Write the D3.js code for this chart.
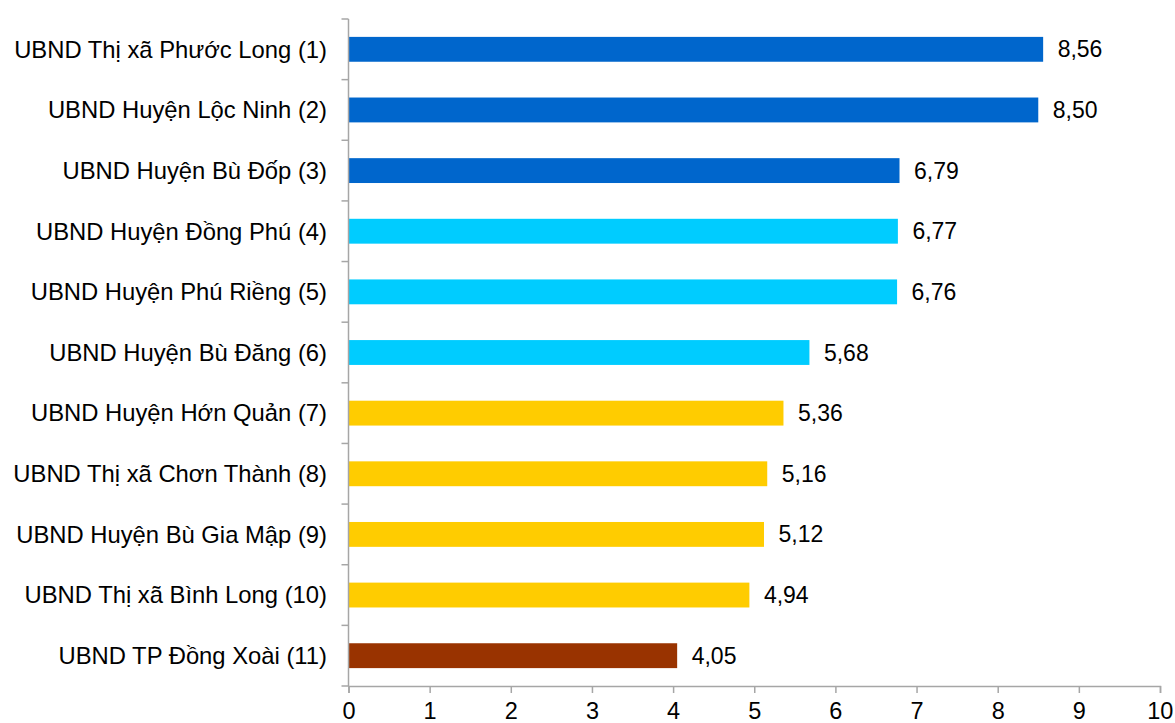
<!DOCTYPE html>
<html><head><meta charset="utf-8">
<script src="https://cdn.jsdelivr.net/npm/d3@7"></script>
<style>body{margin:0;background:#fff}svg{display:block}text{font-family:"Liberation Sans",Arial,sans-serif}</style>
</head><body><svg id="c" width="1175" height="723"></svg>
<script>
const categories = ["UBND Thị xã Phước Long (1)","UBND Huyện Lộc Ninh (2)","UBND Huyện Bù Đốp (3)","UBND Huyện Đồng Phú (4)","UBND Huyện Phú Riềng (5)","UBND Huyện Bù Đăng (6)","UBND Huyện Hớn Quản (7)","UBND Thị xã Chơn Thành (8)","UBND Huyện Bù Gia Mập (9)","UBND Thị xã Bình Long (10)","UBND TP Đồng Xoài (11)"];
const values = [8.56,8.50,6.79,6.77,6.76,5.68,5.36,5.16,5.12,4.94,4.05];
const groups = [0,0,0,1,1,1,2,2,2,2,3];
const groupColors = ["#0066CC","#00CCFF","#FFCC00","#993300"];
const xTicks = [0,1,2,3,4,5,6,7,8,9,10];

const svg = d3.select("#c");
const mLeft = 348.5, mRight = 1160, mTop = 19, mBottom = 686;
const x = d3.scaleLinear().domain([0,10]).range([mLeft,mRight]);
const y = d3.scaleBand().domain(categories).range([mTop,mBottom]).paddingInner(0.59).paddingOuter(0.295);
const yb = d3.scaleBand().domain(categories).range([mTop,mBottom]);

svg.selectAll("rect.bar").data(values).join("rect").attr("class","bar")
  .attr("x", x(0)).attr("y",(d,i)=>y(categories[i])).attr("height",y.bandwidth())
  .attr("width",d=>x(d)-x(0)).attr("fill",(d,i)=>groupColors[groups[i]]);

svg.selectAll("text.val").data(values).join("text").attr("class","val")
  .attr("x",d=>x(d)+14.5).attr("y",(d,i)=>y(categories[i])+y.bandwidth()/2)
  .attr("dy","0.35em").attr("font-size",23).attr("fill","#000")
  .text(d=>d.toFixed(2).replace(".",","));

const axisColor = "#a6a6a6";
const gy = svg.append("g");
gy.append("line").attr("x1",mLeft).attr("x2",mLeft).attr("y1",mTop).attr("y2",mBottom).attr("stroke",axisColor).attr("stroke-width",1.5);
const bounds = categories.map(c=>yb(c)).concat([mBottom]);
gy.selectAll("line.t").data(bounds).join("line").attr("class","t")
  .attr("x1",mLeft-7).attr("x2",mLeft).attr("y1",d=>d).attr("y2",d=>d).attr("stroke",axisColor).attr("stroke-width",1.5);
gy.selectAll("text").data(categories).join("text")
  .attr("x",327).attr("y",d=>yb(d)+yb.bandwidth()/2).attr("dy","0.35em")
  .attr("text-anchor","end").attr("font-size",23.8).attr("fill","#000").text(d=>d);

const gx = svg.append("g").attr("transform",`translate(0,${mBottom})`);
const ax = d3.axisBottom(x).tickValues(xTicks).tickSize(7).tickPadding(9).tickFormat(d3.format("d"));
gx.call(ax);
gx.select(".domain").attr("stroke",axisColor).attr("stroke-width",1.5);
gx.selectAll(".tick line").attr("stroke",axisColor).attr("stroke-width",1.5);
gx.selectAll(".tick text").attr("font-size",23.5).attr("fill","#000").attr("font-family","Liberation Sans, Arial, sans-serif");
gx.select(".tick:last-of-type text").attr("text-anchor","end").attr("dx","0.55em");
</script></body></html>
